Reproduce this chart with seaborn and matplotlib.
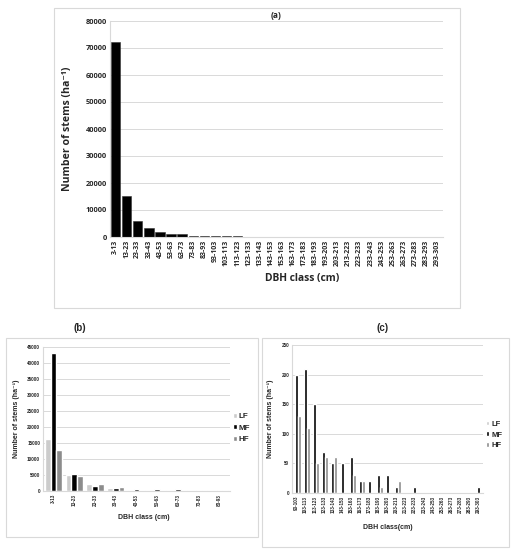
import matplotlib
matplotlib.use("Agg")
import matplotlib.pyplot as plt
import seaborn as sns
import pandas as pd

# DBH classes, panel (a): all plots pooled
classes_a = ["3-13", "13-23", "23-33", "33-43", "43-53", "53-63", "63-73", "73-83",
             "83-93", "93-103", "103-113", "113-123", "123-133", "133-143", "143-153",
             "153-163", "163-173", "173-183", "183-193", "193-203", "203-213", "213-223",
             "223-233", "233-243", "243-253", "253-263", "263-273", "273-283", "283-293",
             "293-303"]
stems_a = [72100, 15100, 6100, 3200, 1700, 1000, 950, 550, 400, 330, 280, 200, 150,
           150, 0, 150, 0, 0, 0, 0, 0, 0, 0, 0, 0, 0, 0, 0, 0, 0]

# panel (b): small classes by forest type
classes_b = ["3-13", "13-23", "23-33", "33-43", "43-53", "53-63", "63-73", "73-83", "83-93"]
lf_b = [16400, 5000, 2100, 1000, 400, 150, 150, 80, 60]
mf_b = [43100, 5400, 1650, 950, 750, 600, 550, 350, 250]
hf_b = [12700, 4800, 2200, 1100, 400, 300, 300, 200, 200]

# panel (c): large classes by forest type
classes_c = ["93-103", "103-113", "113-123", "123-133", "133-143", "143-153", "153-163",
             "163-173", "173-183", "183-193", "193-203", "203-213", "213-223", "223-233",
             "233-243", "243-253", "253-263", "263-273", "273-283", "283-293", "293-303"]
lf_c = [0, 0, 0, 0, 0, 0, 0, 0, 0, 0, 0, 0, 0, 0, 0, 0, 0, 0, 0, 0, 0]
mf_c = [200, 210, 150, 70, 50, 50, 60, 20, 20, 30, 30, 10, 0, 10, 0, 0, 0, 0, 0, 0, 10]
hf_c = [130, 110, 50, 60, 60, 0, 30, 20, 0, 10, 0, 20, 0, 0, 0, 0, 0, 0, 0, 0, 0]

forests = ["LF", "MF", "HF"]
pal = ["#cccccc", "#000000", "#8c8c8c"]
grid_c = "#d9d9d9"
ylab = "Number of stems (ha\u207b\u00b9)"


def long_df(classes, lf, mf, hf):
    rows = []
    for name, vals in zip(forests, [lf, mf, hf]):
        for c, v in zip(classes, vals):
            rows.append({"cls": c, "n": v, "forest": name})
    return pd.DataFrame(rows)


sns.set_style("white")
calib = ["Open Sans", "DejaVu Sans"]
arial = ["Liberation Sans", "DejaVu Sans"]
plt.rcParams["font.family"] = calib
plt.rcParams["font.weight"] = "bold"

W, H = 511, 550
fig = plt.figure(figsize=(W / 100, H / 100), dpi=100)


def box(x0, y0, x1, y1):
    # panel frame in pixel coords (top-left origin)
    fig.add_artist(plt.Rectangle((x0 / W, 1 - y1 / H), (x1 - x0) / W, (y1 - y0) / H,
                                 transform=fig.transFigure, fill=False,
                                 ec=grid_c, lw=0.8))


def axes_px(x0, y0, x1, y1):
    return fig.add_axes([x0 / W, 1 - y1 / H, (x1 - x0) / W, (y1 - y0) / H])


def style_axes(ax, fam):
    ax.yaxis.grid(True, color=grid_c, lw=0.7)
    ax.set_axisbelow(True)
    for s in ["top", "right"]:
        ax.spines[s].set_visible(False)
    for s in ["left", "bottom"]:
        ax.spines[s].set_color(grid_c)
        ax.spines[s].set_linewidth(0.8)
    ax.tick_params(length=0, pad=2)
    ax.tick_params(axis="x", rotation=90)
    plt.setp(ax.get_xticklabels() + ax.get_yticklabels(), family=fam, fontweight="bold")


# ---- panel (a)
box(54, 8, 460, 308)
ax = axes_px(110, 21, 443, 237)
sns.barplot(x=classes_a, y=stems_a, color="black", saturation=1, width=0.85,
            edgecolor="#333333", linewidth=0.4, ax=ax)
ax.set_ylim(0, 80000)
ax.set_yticks(range(0, 80001, 10000))
ax.tick_params(axis="y", labelsize=5.3)
ax.tick_params(axis="x", labelsize=5.0)
style_axes(ax, calib)
ax.set_xlabel("DBH class (cm)", fontsize=7.4, fontweight="bold", labelpad=5, x=0.577)
ax.set_ylabel(ylab, fontsize=7.6, fontweight="bold", labelpad=9)
ax.set_title("(a)", fontsize=6, fontweight="bold", pad=2)

# ---- panel (b)
box(6, 338, 258, 537)
fig.text(80 / W, 1 - 328 / H, "(b)", ha="center", va="center", fontsize=7,
         fontweight="bold", family=arial)
ax = axes_px(43, 347, 230, 491)
df_b = long_df(classes_b, lf_b, mf_b, hf_b)
sns.barplot(data=df_b, x="cls", y="n", hue="forest", palette=pal, saturation=1,
            width=0.83, ax=ax)
ax.set_ylim(0, 45000)
ax.set_yticks(range(0, 45001, 5000))
ax.tick_params(axis="both", labelsize=3.3)
style_axes(ax, arial)
ax.set_xlabel("DBH class (cm)", fontsize=5, fontweight="bold", family=arial,
              labelpad=6, x=0.54)
ax.set_ylabel(ylab, fontsize=5, fontweight="bold", family=arial, labelpad=5)
ax.legend(loc="center left", bbox_to_anchor=(233 / W, 1 - 428 / H),
          bbox_transform=fig.transFigure, frameon=False, handlelength=0.45,
          handleheight=0.6, handletextpad=0.25, labelspacing=0.5, borderaxespad=0,
          borderpad=0, prop={"family": arial, "size": 5.8})

# ---- panel (c)
box(262, 338, 509, 547)
fig.text(383 / W, 1 - 328 / H, "(c)", ha="center", va="center", fontsize=7,
         fontweight="bold", family=arial)
ax = axes_px(292, 345, 483, 493)
df_c = long_df(classes_c, lf_c, mf_c, hf_c)
sns.barplot(data=df_c, x="cls", y="n", hue="forest", palette=pal, saturation=1,
            width=1.0, ax=ax)
ax.set_ylim(0, 250)
ax.set_yticks(range(0, 251, 50))
ax.tick_params(axis="both", labelsize=3.3)
style_axes(ax, arial)
ax.set_xlabel("DBH class(cm)", fontsize=5, fontweight="bold", family=arial, labelpad=8)
ax.set_ylabel(ylab, fontsize=5, fontweight="bold", family=arial, labelpad=5)
ax.legend(loc="center left", bbox_to_anchor=(486 / W, 1 - 435 / H),
          bbox_transform=fig.transFigure, frameon=False, handlelength=0.45,
          handleheight=0.6, handletextpad=0.25, labelspacing=0.5, borderaxespad=0,
          borderpad=0, prop={"family": arial, "size": 5.5})

fig.savefig("out.png", dpi=100, facecolor="white")
